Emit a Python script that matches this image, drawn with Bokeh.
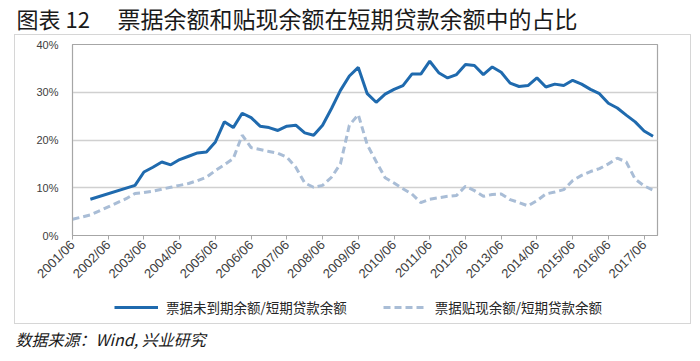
import math
from bokeh.plotting import figure
from bokeh.models import (Range1d, FixedTicker, Label, Legend, LegendItem, Spacer)
from bokeh.layouts import column, row
from bokeh.embed import file_html
from bokeh.resources import INLINE

# ---- data (months after 2001/06, values in %) ----
tick_months = [0, 12, 24, 36, 48, 60, 72, 84, 96, 108, 120, 132, 144, 156, 168, 180, 192]
tick_labels = ["2001/06", "2002/06", "2003/06", "2004/06", "2005/06", "2006/06",
               "2007/06", "2008/06", "2009/06", "2010/06", "2011/06", "2012/06",
               "2013/06", "2014/06", "2015/06", "2016/06", "2017/06"]

solid_months = [6, 21, 24, 27, 30, 33, 36, 39, 42, 45, 48, 51, 54, 57, 60, 63, 66, 69,
                72, 75, 78, 81, 84, 87, 90, 93, 96, 99, 102, 105, 108, 111, 114, 117,
                120, 123, 126, 129, 132, 135, 138, 141, 144, 147, 150, 153, 156, 159,
                162, 165, 168, 171, 174, 177, 180, 183, 186, 189, 192, 195]
solid_values = [7.6, 10.5, 13.3, 14.3, 15.4, 14.8, 15.9, 16.6, 17.3, 17.5, 19.6, 23.8,
                22.6, 25.6, 24.7, 22.9, 22.6, 22.0, 22.9, 23.1, 21.5, 21.0, 23.1, 26.6,
                30.4, 33.4, 35.2, 29.7, 27.9, 29.6, 30.6, 31.4, 33.8, 33.8, 36.5, 34.1,
                33.0, 33.7, 35.8, 35.6, 33.7, 35.3, 34.2, 31.9, 31.2, 31.4, 33.0, 31.1,
                31.7, 31.4, 32.5, 31.7, 30.6, 29.7, 27.7, 26.7, 25.2, 23.8, 21.9, 20.8]

dash_months = [0, 6, 12, 18, 21, 24, 27, 30, 33, 36, 39, 42, 45, 48, 51, 54, 57, 60,
               63, 66, 69, 72, 75, 78, 81, 84, 87, 90, 93, 96, 99, 102, 105, 108, 111,
               114, 117, 120, 123, 126, 129, 132, 135, 138, 141, 144, 147, 150, 153,
               156, 159, 162, 165, 168, 171, 174, 177, 180, 183, 186, 189, 192, 195]
dash_values = [3.4, 4.3, 6.0, 7.7, 8.8, 9.0, 9.3, 9.7, 10.1, 10.5, 10.9, 11.5, 12.2,
               13.6, 14.8, 16.1, 21.0, 18.4, 18.0, 17.6, 17.2, 16.4, 14.3, 11.0, 10.1,
               10.5, 12.2, 15.0, 23.1, 25.3, 19.0, 15.5, 12.1, 11.0, 9.8, 8.7, 6.9,
               7.6, 7.9, 8.2, 8.4, 10.3, 9.4, 8.2, 8.6, 8.7, 7.5, 6.9, 6.2, 7.3, 8.7,
               9.1, 9.6, 11.5, 12.6, 13.4, 14.0, 15.0, 16.2, 15.4, 11.8, 10.4, 9.5]

y_ticks = [0, 10, 20, 30, 40]
y_labels = ["0%", "10%", "20%", "30%", "40%"]

series_names = ["票据未到期余额/短期贷款余额", "票据贴现余额/短期贷款余额"]
title_prefix = "图表 12"
title_main = "票据余额和贴现余额在短期贷款余额中的占比"
source_text = "数据来源：Wind, 兴业研究"

CJK = "Noto Sans CJK SC"
SOLID = dict(line_color="#1F6AAE", line_width=3)
DASH = dict(line_color="#A9BDD6", line_width=3, line_dash="7 4")

def blank(w, h):
    f = figure(width=w, height=h, output_backend="svg", toolbar_location=None,
               x_axis_type=None, y_axis_type=None, min_border=0,
               x_range=Range1d(0, 1), y_range=Range1d(0, 1))
    f.outline_line_color = None
    f.xgrid.visible = False
    f.ygrid.visible = False
    f.background_fill_color = "white"
    f.border_fill_color = "white"
    return f

# ---- title strip (page y 0..34) ----
TH = 34
tfig = blank(700, TH)
tfig.add_layout(Label(x=16, y=TH - 17, x_units="screen", y_units="screen",
                      text=title_prefix, text_font=CJK, text_font_size="22px",
                      text_color="#1A1A1A", text_baseline="middle"))
tfig.add_layout(Label(x=117, y=TH - 17, x_units="screen", y_units="screen",
                      text=title_main, text_font=CJK, text_font_size="23px",
                      text_color="#1A1A1A", text_baseline="middle"))

# ---- main chart (inside bordered box; frame at page x 72..657, y 44..235) ----
IW = 675
CH, LH = 254, 34
p = figure(width=IW, height=CH, output_backend="svg", toolbar_location=None,
           x_range=Range1d(0, 196.5), y_range=Range1d(0, 40),
           min_border_left=57, min_border_right=33, min_border_top=9,
           min_border_bottom=54)
p.background_fill_color = "white"
p.border_fill_color = "white"
p.outline_line_color = "#A6A6A6"
p.outline_line_width = 1.2

r1 = p.line(solid_months, solid_values, **SOLID)
r2 = p.line(dash_months, dash_values, **DASH)

p.xaxis.ticker = FixedTicker(ticks=tick_months)
p.xaxis.major_label_overrides = {m: l for m, l in zip(tick_months, tick_labels)}
p.xaxis.major_label_orientation = math.pi / 4
p.xaxis.major_label_text_font = "Liberation Sans"
p.xaxis.major_label_text_font_size = "13px"
p.xaxis.major_label_text_color = "#404040"
p.xaxis.axis_line_color = "#A6A6A6"
p.xaxis.major_tick_line_color = "#A6A6A6"
p.xaxis.major_tick_in = 0
p.xaxis.major_tick_out = 4
p.xaxis.minor_tick_line_color = None
p.xaxis.major_label_standoff = 3

p.yaxis.ticker = FixedTicker(ticks=y_ticks)
p.yaxis.major_label_overrides = {t: l for t, l in zip(y_ticks, y_labels)}
p.yaxis.major_label_text_font = "Liberation Sans"
p.yaxis.major_label_text_font_size = "11px"
p.yaxis.major_label_text_color = "#404040"
p.yaxis.axis_line_color = "#A6A6A6"
p.yaxis.major_tick_line_color = None
p.yaxis.minor_tick_line_color = None
p.yaxis.major_label_standoff = 8

p.xgrid.grid_line_color = None
p.ygrid.ticker = FixedTicker(ticks=[10, 20, 30])
p.ygrid.grid_line_color = "#D0D0D0"
p.ygrid.grid_line_width = 1.5

# ---- legend strip (page y 289..323); proxy lines lie outside its 0..1 ranges ----
lfig = blank(IW, LH)
l1 = lfig.line(solid_months, solid_values, **SOLID)
l2 = lfig.line(dash_months, dash_values, **DASH)
legend = Legend(items=[LegendItem(label=series_names[0], renderers=[l1]),
                       LegendItem(label=series_names[1], renderers=[l2])],
                orientation="horizontal", location=(42, 6), margin=0,
                padding=0, spacing=36, glyph_width=44, glyph_height=16,
                label_height=16, label_standoff=8,
                label_text_font=CJK, label_text_font_size="13.5px",
                label_text_color="#262626", border_line_alpha=0,
                background_fill_alpha=0)
lfig.add_layout(legend)

box = column(p, lfig)
box.styles = {"border": "1px solid #D6D6D6"}

# ---- source strip ----
SH = 37
sfig = blank(700, SH)
sfig.add_layout(Label(x=15, y=SH - 14, x_units="screen", y_units="screen",
                      text=source_text, text_font=CJK, text_font_size="16px",
                      text_font_style="italic", text_color="#1A1A1A",
                      text_baseline="middle"))

layout = column(tfig, row(Spacer(width=14, height=CH + LH + 2), box), sfig)
open("out.html", "w").write(file_html(layout, INLINE))
